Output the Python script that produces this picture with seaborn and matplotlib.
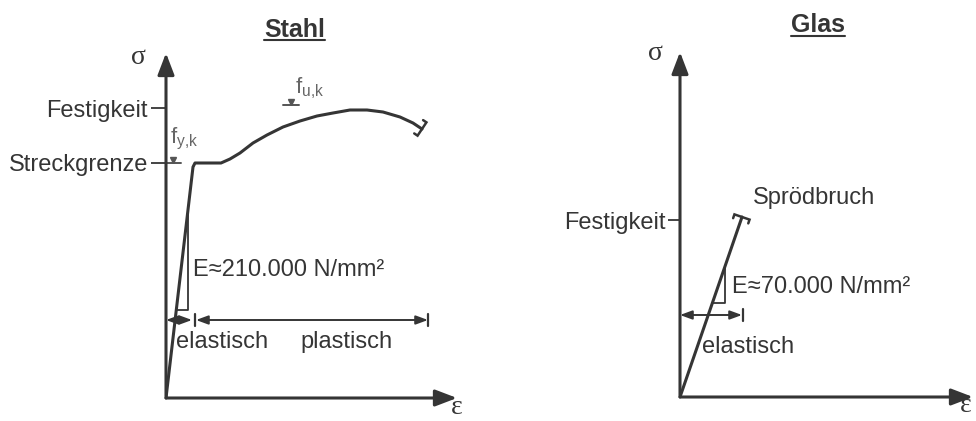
import numpy as np
import matplotlib
matplotlib.use("Agg")
import matplotlib.pyplot as plt
from matplotlib.lines import Line2D
import seaborn as sns

# schematic units (1 unit ~ 1 px of the sketch), origin at the axis corner
steel_eps = [0, 27, 29, 55, 64, 74, 87, 101, 117, 134, 151, 167, 184, 201,
             217, 234, 247, 256]
steel_sigma = [0, 231, 235, 235, 239, 245, 255, 263, 271, 277, 282, 285, 288,
               288, 286, 281, 275, 269]
steel_ticks = [235, 290]
steel_ticklabels = ["Streckgrenze", "Festigkeit"]
steel_fy = 235
steel_fu = 290
steel_elastic_end = 29
steel_plastic_end = 262

glass_eps = [0, 62]
glass_sigma = [0, 180]
glass_ticks = [177]
glass_ticklabels = ["Festigkeit"]
glass_elastic_end = 63

C = "#353535"
FS = 17

sns.set_theme(style="white")
plt.rcParams["font.family"] = ["Liberation Sans", "DejaVu Sans"]
plt.rcParams["mathtext.fontset"] = "custom"
plt.rcParams["mathtext.rm"] = "Liberation Sans"
plt.rcParams["mathtext.it"] = "Liberation Sans:italic"
plt.rcParams["mathtext.bf"] = "Liberation Sans:bold"


def axis_arrows(ax):
    for sp in ax.spines.values():
        sp.set_visible(False)
    style = "-|>,head_length=1.1,head_width=0.42"
    for tip in [(1, 0), (0, 1)]:
        ax.annotate("", xy=tip, xytext=(0, 0), xycoords="axes fraction",
                    arrowprops=dict(arrowstyle=style, lw=2.2, color=C,
                                    shrinkA=0, shrinkB=0))


def end_bar(ax, x, y, size=8, hook=4):
    dx, dy = x[-1] - x[-2], y[-1] - y[-2]
    n = np.hypot(dx, dy)
    d = np.array([dx, dy]) / n
    p = np.array([-d[1], d[0]])
    e = np.array([x[-1], y[-1]])
    pts = np.array([e + p * size - d * hook, e + p * size,
                    e - p * size, e - p * size - d * hook])
    ax.plot(pts[:, 0], pts[:, 1], color=C, lw=1.8, solid_joinstyle="miter")


def slope_triangle(ax, eps, sig, x_v, y_h):
    k = sig[1] / eps[1]
    ax.plot([y_h / k, x_v, x_v], [y_h, y_h, k * x_v], color=C, lw=1.3)


def dim_arrow(ax, x0, x1, y):
    ax.annotate("", xy=(x1, y), xytext=(x0, y), xycoords="data",
                arrowprops=dict(arrowstyle="<|-|>,head_length=0.6,head_width=0.22",
                                lw=1.4, color=C, shrinkA=0, shrinkB=0))


def bar(ax, x, y, h=6):
    ax.plot([x, x], [y - h, y + h], color=C, lw=1.6)


def level_marker(ax, x, y, w=8):
    ax.plot([x - w, x + w], [y, y], color="#555555", lw=1.4)
    ax.plot([x], [y + 3], marker="v", ms=5, color="#555555")


def setup(ax, ticks, labels, w, tick_len):
    axis_arrows(ax)
    ax.set_xlim(0, w)
    ax.set_ylim(0, 345)
    ax.set_xticks([])
    ax.set_yticks(ticks)
    ax.set_yticklabels(labels)
    ax.tick_params(axis="y", direction="out", length=tick_len, width=1.3,
                   color=C, pad=2, labelsize=FS, labelcolor=C, left=True)
    ax.set_xlabel("")
    ax.set_ylabel("")


fig = plt.figure(figsize=(9.76, 4.21), dpi=100)
ax1 = fig.add_axes([166 / 976, 23 / 421, 291 / 976, 345 / 421])
ax2 = fig.add_axes([680 / 976, 24 / 421, 293 / 976, 345 / 421])
for a in (ax1, ax2):
    a.patch.set_alpha(0)

# ---- Stahl ----
setup(ax1, steel_ticks, steel_ticklabels, 291, 11)
sns.lineplot(x=steel_eps, y=steel_sigma, ax=ax1, sort=False, estimator=None,
             color=C, lw=2.2)
ax1.lines[-1].set_solid_joinstyle("round")
end_bar(ax1, steel_eps, steel_sigma)
slope_triangle(ax1, steel_eps, steel_sigma, 22, 88)
dim_arrow(ax1, 0, steel_elastic_end - 3, 78)
bar(ax1, steel_elastic_end, 78)
dim_arrow(ax1, steel_elastic_end + 1, steel_plastic_end, 78)
bar(ax1, steel_plastic_end, 78)
level_marker(ax1, 7, steel_fy)
level_marker(ax1, 125, steel_fu + 3)
ax1.text(4, 246, r"$\mathrm{f}_{\mathrm{y{,}k}}$", fontsize=16, color="#666666",
         va="bottom", ha="left")
ax1.text(129, 297, r"$\mathrm{f}_{\mathrm{u{,}k}}$", fontsize=16, color="#666666",
         va="bottom", ha="left")
ax1.text(27, 128, "E\u2248210.000 N/mm\u00b2", fontsize=FS, color=C, va="center")
ax1.text(56, 56, "elastisch", fontsize=FS, color=C, va="center", ha="center")
ax1.text(180, 56, "plastisch", fontsize=FS, color=C, va="center", ha="center")
ax1.text(-28, 341, "\u03c3", fontsize=20, family="Liberation Serif", color=C,
         va="center", ha="center")
ax1.text(291, -22, "\u03b5", fontsize=20, family="Liberation Serif", color=C,
         va="bottom", ha="center")
t1 = ax1.text(0.443, 1.067, "Stahl", transform=ax1.transAxes, fontsize=18,
              fontweight="bold", color=C, ha="center", va="center")

# ---- Glas ----
setup(ax2, glass_ticks, glass_ticklabels, 293, 8.5)
sns.lineplot(x=glass_eps, y=glass_sigma, ax=ax2, sort=False, estimator=None,
             color=C, lw=2.2)
end_bar(ax2, glass_eps, glass_sigma)
slope_triangle(ax2, glass_eps, glass_sigma, 45, 94)
dim_arrow(ax2, 0, glass_elastic_end - 1, 82)
bar(ax2, glass_elastic_end, 82)
ax2.text(52, 110, "E\u224870.000 N/mm\u00b2", fontsize=FS, color=C, va="center")
ax2.text(68, 50, "elastisch", fontsize=FS, color=C, va="center", ha="center")
ax2.text(134, 199, "Sprödbruch", fontsize=FS, color=C, va="center", ha="center")
ax2.text(-25, 344, "\u03c3", fontsize=20, family="Liberation Serif", color=C,
         va="center", ha="center")
ax2.text(286, -21, "\u03b5", fontsize=20, family="Liberation Serif", color=C,
         va="bottom", ha="center")
t2 = ax2.text(0.471, 1.078, "Glas", transform=ax2.transAxes, fontsize=18,
              fontweight="bold", color=C, ha="center", va="center")

# underline the titles
fig.canvas.draw()
r = fig.canvas.get_renderer()
W, H = fig.get_size_inches() * fig.dpi
for t in (t1, t2):
    bb = t.get_window_extent(r)
    yy = (bb.y0 + 1.5) / H
    fig.add_artist(Line2D([bb.x0 / W, bb.x1 / W], [yy, yy], color=C, lw=1.5))

fig.savefig("out.png", dpi=100)
